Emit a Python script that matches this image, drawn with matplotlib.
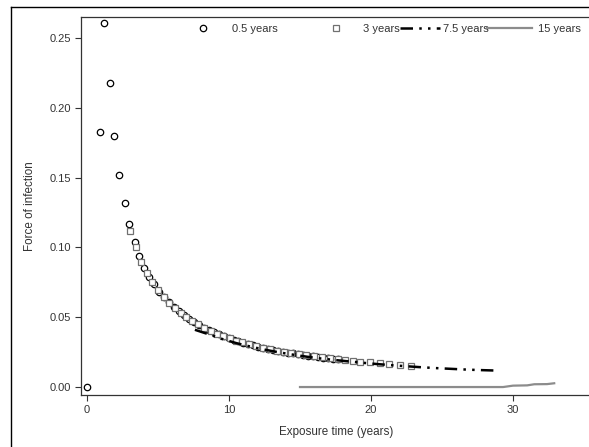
import matplotlib
matplotlib.use("Agg")
import matplotlib.pyplot as plt
from matplotlib.lines import Line2D
from matplotlib.legend import Legend

plt.rcParams['font.family'] = ['Liberation Sans', 'DejaVu Sans']

# 0.5 years (circles)
x_05 = [0.0, 0.89, 1.22, 1.62, 1.92, 2.28, 2.68, 2.98, 3.36, 3.68, 4.01, 4.37, 4.72, 5.07,
        5.42, 5.77, 6.12, 6.47, 6.82, 7.17, 7.52, 7.87, 8.22, 8.57, 8.92, 9.27, 9.62, 9.97,
        10.32, 10.67, 11.02, 11.37, 11.72, 12.07, 12.42, 12.77, 13.12, 13.47, 13.82, 14.17,
        14.52, 14.87, 15.22, 15.57, 15.92, 16.27, 16.62, 16.97, 17.32, 17.67]
y_05 = [0.0, 0.183, 0.261, 0.218, 0.180, 0.152, 0.132, 0.117, 0.104, 0.094, 0.0854, 0.079, 0.0735, 0.068,
        0.0646, 0.0607, 0.0572, 0.0541, 0.0513, 0.0488, 0.0465, 0.0445, 0.0426, 0.0408, 0.0392, 0.0378, 0.0364, 0.0351,
        0.0339, 0.0328, 0.0318, 0.0308, 0.0299, 0.0290, 0.0282, 0.0274, 0.0267, 0.0260, 0.0253, 0.0247,
        0.0241, 0.0235, 0.0230, 0.0225, 0.0220, 0.0215, 0.0211, 0.0206, 0.0202, 0.0198]

# 3 years (squares)
x_3 = [3.03, 3.45, 3.80, 4.20, 4.60, 5.0, 5.4, 5.8, 6.2, 6.6, 7.0, 7.4, 7.8, 8.25, 8.7, 9.15, 9.6,
       10.05, 10.5, 10.95, 11.4, 11.9, 12.4, 12.9, 13.4, 13.9, 14.4, 14.9, 15.45, 16.0, 16.55, 17.1,
       17.7, 18.2, 18.7, 19.25, 19.9, 20.6, 21.3, 22.05, 22.85]
y_3 = [0.112, 0.100, 0.0897, 0.082, 0.0755, 0.0695, 0.0648, 0.0603, 0.0565, 0.0530, 0.0500, 0.0473, 0.0449,
       0.0424, 0.0402, 0.0383, 0.0365, 0.0348, 0.0333, 0.0320, 0.0307, 0.0294, 0.0282, 0.0271, 0.0261,
       0.0252, 0.0243, 0.0235, 0.0227, 0.0219, 0.0212, 0.0205, 0.0198, 0.0192, 0.0187, 0.0182, 0.0176,
       0.0170, 0.0164, 0.0159, 0.0153]

# 7.5 years (dash-dot line)
x_75 = [7.6, 8.5, 9.5, 10.5, 11.5, 12.5, 13.5, 14.5, 15.5, 16.5, 17.5, 18.5, 19.5, 20.5, 21.5,
        22.5, 23.5, 24.5, 25.5, 26.5, 27.5, 28.5, 29.0]
y_75 = [0.0410, 0.0380, 0.0345, 0.0315, 0.0290, 0.0268, 0.0249, 0.0232, 0.0217, 0.0204, 0.0193,
        0.0183, 0.0173, 0.0164, 0.0156, 0.0149, 0.0142, 0.0136, 0.0131, 0.0126, 0.0122, 0.0119, 0.0117]

# 15 years (grey line)
x_15 = [15.0, 29.3, 30.0, 31.0, 31.5, 32.4, 32.9]
y_15 = [0.0, 0.0, 0.0010, 0.0012, 0.0020, 0.0021, 0.0027]

labels = ["0.5 years", "3 years", "7.5 years", "15 years"]
xticks = [0, 10, 20, 30]
yticks = [0.00, 0.05, 0.10, 0.15, 0.20, 0.25]

W, H = 589, 447
fig = plt.figure(figsize=(W / 100, H / 100), dpi=100)
ax = fig.add_axes([81 / W, 1 - 395 / H, 1 - 81 / W, (395 - 17) / H])

h1, = ax.plot(x_05, y_05, linestyle='none', marker='o', markersize=4.6,
              markerfacecolor='white', markeredgecolor='black', markeredgewidth=0.9, zorder=3)
h2, = ax.plot(x_3, y_3, linestyle='none', marker='s', markersize=4.8,
              markerfacecolor='white', markeredgecolor='#707070', markeredgewidth=0.9, zorder=4)
h3, = ax.plot(x_75, y_75, color='black', linewidth=1.8, dashes=(5, 2.5, 1, 2.5, 1, 2.5), zorder=5)
h4, = ax.plot(x_15, y_15, color='#8c8c8c', linewidth=1.6, zorder=2)

ax.set_xlim(-0.42, 35.35)
ax.set_ylim(-0.0057, 0.2650)
ax.set_xticks(xticks)
ax.set_xticklabels([str(t) for t in xticks])
ax.set_yticks(yticks)
ax.set_yticklabels(["%.2f" % t for t in yticks])
ax.tick_params(direction='out', length=4, width=0.8, labelsize=8, colors='#333333', pad=3)
ax.spines['right'].set_visible(False)
for s in ['left', 'bottom', 'top']:
    ax.spines[s].set_color('#333333')
    ax.spines[s].set_linewidth(0.9)

ax.set_xlabel("Exposure time (years)", fontsize=8.4, color='#333333')
ax.set_ylabel("Force of infection", fontsize=8.4, color='#333333')
ax.xaxis.set_label_coords(0.502, -0.082)
ax.yaxis.set_label_coords(-0.089, 0.5)

# Legend entries placed individually
aw = 508.0
specs = [
    (h1, labels[0], (197.5 - 81) / aw, 1.0, 2.1),
    (h2, labels[1], (330.5 - 81) / aw, 1.0, 1.94),
    (h3, labels[2], (400 - 81) / aw, 3.6, 0.3),
    (h4, labels[3], (487 - 81) / aw, 4.05, 0.54),
]
ly = (395 - 29) / 378.0
for h, lab, xf, hl, tp in specs:
    leg = Legend(ax, [h], [lab], loc='center left', bbox_to_anchor=(xf, ly),
                 frameon=False, borderpad=0, borderaxespad=0, handlelength=hl,
                 handletextpad=tp, numpoints=1, fontsize=8, labelcolor='#333333')
    ax.add_artist(leg)

# outer frame
fig.add_artist(Line2D([11 / W, 11 / W], [0, 1 - 7 / H], color='black', linewidth=1.0))
fig.add_artist(Line2D([11 / W, 1], [1 - 7 / H, 1 - 7 / H], color='black', linewidth=1.0))

fig.savefig("out.png", dpi=100)
